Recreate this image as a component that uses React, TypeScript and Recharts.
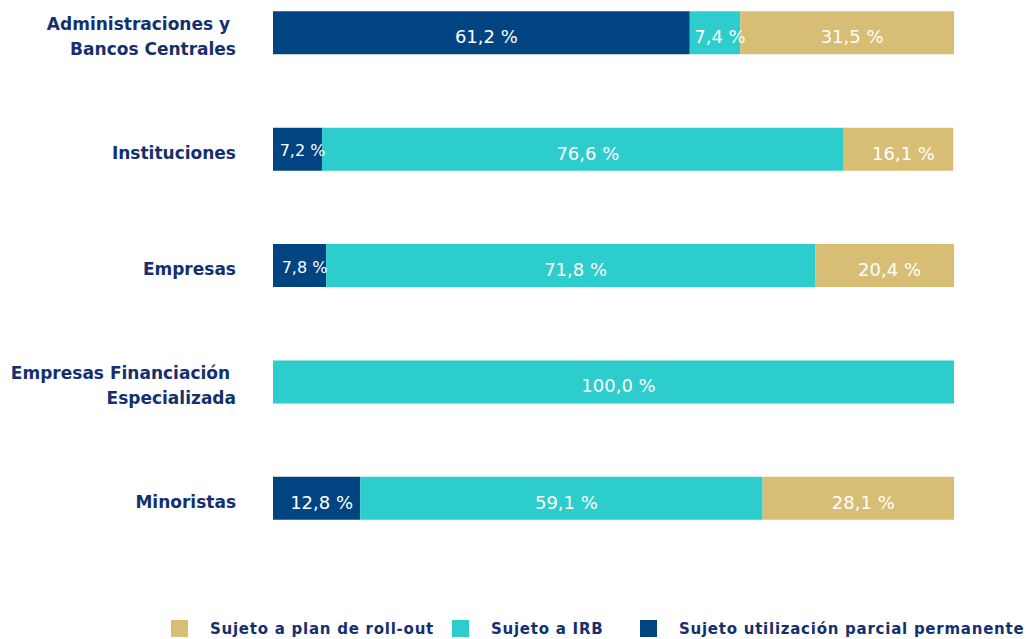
import React from "react";
import { BarChart, Bar, XAxis, YAxis, LabelList, Legend } from "recharts";

// category labels, split into the lines they are drawn on
const categoryLines: string[][] = [
  ["Administraciones y\u00a0", "Bancos Centrales"],
  ["Instituciones"],
  ["Empresas"],
  ["Empresas Financiación\u00a0", "Especializada"],
  ["Minoristas"],
];

// % of exposure per category
const parcialPermanente = [61.2, 7.2, 7.8, 0, 12.8];
const sujetoIRB = [7.4, 76.6, 71.8, 100.0, 59.1];
const planRollOut = [31.5, 16.1, 20.4, 0, 28.1];

// legend reads right-to-left relative to the stack
const legendOrder = ["Sujeto a plan de roll-out", "Sujeto a IRB", "Sujeto utilización parcial permanente"];

const NAVY = "#004481";
const CYAN = "#2dcccd";
const GOLD = "#d8be75";
const TEXT = "#14306e";
const FONT = "'DejaVu Sans', Verdana, sans-serif";

const data = categoryLines.map((lines, i) => ({
  name: lines.join(" "),
  parcial: parcialPermanente[i],
  irb: sujetoIRB[i],
  rollout: planRollOut[i],
}));

const linesByName: Record<string, string[]> = {};
data.forEach((d, i) => (linesByName[d.name] = categoryLines[i]));

const fmt = (v: number) => v.toFixed(1).replace(".", ",") + " %";

const CategoryTick = (props: any) => {
  const { x, y, payload } = props;
  const lines = linesByName[payload.value] || [payload.value];
  const n = lines.length;
  return (
    <text textAnchor="end" fontFamily={FONT} fontWeight="bold" fontSize={17} fill={TEXT}>
      {lines.map((l, i) => (
        <tspan key={i} x={x} y={y + 9.8 + (i - (n - 1) / 2) * 24.5}>
          {l}
        </tspan>
      ))}
    </text>
  );
};

// small navy segments get a smaller label, like the original
const valueLabel = (small: boolean) => (props: any) => {
  const { x, y, width, height, value } = props;
  if (!value) return null;
  const tiny = small && value < 10;
  return (
    <text
      x={x + width / 2 + 5}
      y={y + height / 2 + (tiny ? 7 : 10.5)}
      textAnchor="middle"
      fontFamily={FONT}
      fontSize={tiny ? 16 : 18}
      fill="#ffffff"
    >
      {fmt(value)}
    </text>
  );
};

const legendCols = [171, 452, 640];

const LegendContent = (props: any) => {
  const items = [...(props.payload || [])].sort(
    (a: any, b: any) => legendOrder.indexOf(a.value) - legendOrder.indexOf(b.value)
  );
  return (
    <svg width={1026} height={27} style={{ display: "block" }}>
      {items.map((it: any, i: number) => (
        <g key={it.value}>
          <rect x={legendCols[i]} y={8} width={17} height={17} fill={it.color} />
          <text
            x={legendCols[i] + 39}
            y={22}
            fontFamily={FONT}
            fontWeight="bold"
            fontSize={15}
            letterSpacing={0.75}
            fill={TEXT}
          >
            {it.value}
          </text>
        </g>
      ))}
    </svg>
  );
};

export default function App() {
  return (
    <div style={{ position: "absolute", left: 0, top: 0, width: 1026, height: 639, background: "#fff" }}>
      <BarChart
        layout="vertical"
        width={1026}
        height={639}
        data={data}
        margin={{ top: -25.75, right: 72, bottom: 82.75, left: 0 }}
      >
        <XAxis type="number" domain={[0, 100]} allowDataOverflow hide />
        <YAxis
          type="category"
          dataKey="name"
          width={273}
          axisLine={false}
          tickLine={false}
          tickSize={0}
          tickMargin={37}
          interval={0}
          tick={<CategoryTick />}
        />
        <Legend
          layout="vertical"
          align="center"
          verticalAlign="middle"
          wrapperStyle={{ top: 612, left: 0, width: 1026, height: 27 }}
          content={<LegendContent />}
        />
        <Bar dataKey="parcial" name="Sujeto utilización parcial permanente" stackId="a" fill={NAVY} barSize={43} isAnimationActive={false}>
          <LabelList dataKey="parcial" content={valueLabel(true)} />
        </Bar>
        <Bar dataKey="irb" name="Sujeto a IRB" stackId="a" fill={CYAN} barSize={43} isAnimationActive={false}>
          <LabelList dataKey="irb" content={valueLabel(false)} />
        </Bar>
        <Bar dataKey="rollout" name="Sujeto a plan de roll-out" stackId="a" fill={GOLD} barSize={43} isAnimationActive={false}>
          <LabelList dataKey="rollout" content={valueLabel(false)} />
        </Bar>
      </BarChart>
    </div>
  );
}
